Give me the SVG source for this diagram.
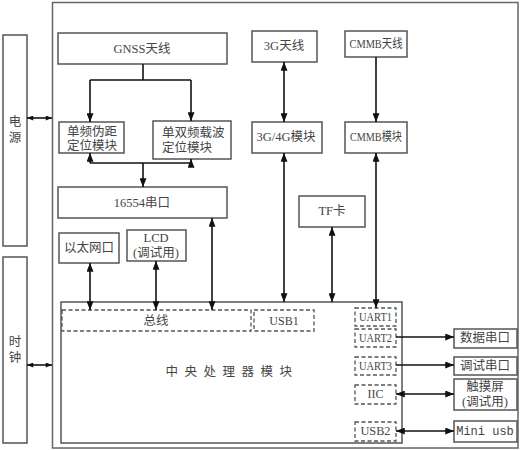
<svg xmlns="http://www.w3.org/2000/svg" width="521" height="450" viewBox="0 0 521 450">
<style>
.box{fill:#fff;stroke:#555;stroke-width:1.5}
.dash{fill:none;stroke:#555;stroke-width:1.3;stroke-dasharray:4,2.5}
.frame{fill:none;stroke:#666;stroke-width:1.5}
.ln{fill:none;stroke:#111;stroke-width:1.6}
.t{font-family:"Liberation Serif","Noto Sans CJK SC",serif;font-size:12.5px;fill:#444;text-anchor:middle;dominant-baseline:central}
.u{font-family:"Liberation Serif",serif;font-size:12px;fill:#444;text-anchor:middle;dominant-baseline:central}
.m{font-family:"Liberation Mono","Noto Sans CJK SC",monospace;font-size:12px;fill:#444;text-anchor:middle;dominant-baseline:central}
</style>
<defs>
<marker id="a" viewBox="0 0 10 8" refX="10" refY="4" markerWidth="9" markerHeight="7" markerUnits="userSpaceOnUse" orient="auto-start-reverse"><path d="M0,0L10,4L0,8Z" fill="#111"/></marker>
<marker id="s" viewBox="0 0 10 8" refX="10" refY="4" markerWidth="7" markerHeight="5" markerUnits="userSpaceOnUse" orient="auto-start-reverse"><path d="M0,0L10,4L0,8Z" fill="#111"/></marker>
</defs>
<rect width="521" height="450" fill="#fff"/>
<g id="frame"><rect class="frame" x="52.5" y="2.5" width="465.5" height="445.5"/></g>
<g id="power"><rect class="box" x="3" y="35" width="24" height="211"/><text class="t" x="15" y="122">电</text><text class="t" x="15" y="138">源</text></g>
<g id="clock"><rect class="box" x="3" y="257" width="24" height="186"/><text class="t" x="15" y="342">时</text><text class="t" x="15" y="358">钟</text></g>
<g id="gnss"><rect class="box" x="58" y="33" width="169" height="31"/><text class="t" x="142" y="49">GNSS天线</text></g>
<g id="single"><rect class="box" x="59" y="122" width="65" height="31"/><text class="t" x="92" y="132">单频伪距</text><text class="t" x="92" y="146">定位模块</text></g>
<g id="dual"><rect class="box" x="153" y="121" width="78" height="38"/><text class="t" x="162" y="133" style="text-anchor:start">单双频载波</text><text class="t" x="162" y="148" style="text-anchor:start">定位模块</text></g>
<g id="serial16554"><rect class="box" x="58" y="187" width="169" height="31"/><text class="t" x="142" y="203">16554串口</text></g>
<g id="ant3g"><rect class="box" x="252" y="31" width="65" height="31"/><text class="t" x="284" y="46">3G天线</text></g>
<g id="antcmmb"><rect class="box" x="345" y="31" width="62" height="26"/><text class="t" x="376" y="44" textLength="53" lengthAdjust="spacingAndGlyphs">CMMB天线</text></g>
<g id="mod3g"><rect class="box" x="252" y="122" width="70" height="31"/><text class="t" x="286" y="137">3G/4G模块</text></g>
<g id="modcmmb"><rect class="box" x="345" y="122" width="62" height="31"/><text class="t" x="376" y="137" textLength="52" lengthAdjust="spacingAndGlyphs">CMMB模块</text></g>
<g id="tf"><rect class="box" x="299" y="196" width="66" height="31"/><text class="t" x="332" y="211">TF卡</text></g>
<g id="eth"><rect class="box" x="59" y="233" width="60" height="30"/><text class="t" x="89" y="248">以太网口</text></g>
<g id="lcd"><rect class="box" x="127" y="230" width="59" height="31"/><text class="t" x="156" y="238">LCD</text><text class="t" x="156" y="253">(调试用)</text></g>
<g id="cpu"><rect class="box" x="61" y="302" width="341" height="141"/><text class="t" x="232" y="372" style="letter-spacing:6.5px">中央处理器模块</text>
<rect class="dash" x="62" y="310" width="189" height="21"/><text class="t" x="156" y="321">总线</text>
<rect class="dash" x="254" y="310" width="60" height="21"/><text class="u" x="284" y="321">USB1</text>
<rect class="dash" x="355" y="308" width="41" height="18"/><text class="u" x="375.5" y="317" textLength="33" lengthAdjust="spacingAndGlyphs">UART1</text>
<rect class="dash" x="355" y="329" width="41" height="18"/><text class="u" x="375.5" y="338" textLength="33" lengthAdjust="spacingAndGlyphs">UART2</text>
<rect class="dash" x="355" y="357" width="41" height="18"/><text class="u" x="375.5" y="366" textLength="33" lengthAdjust="spacingAndGlyphs">UART3</text>
<rect class="dash" x="355" y="385" width="41" height="19"/><text class="u" x="375.5" y="394">IIC</text>
<rect class="dash" x="355" y="422" width="41" height="19"/><text class="u" x="375.5" y="431" textLength="30" lengthAdjust="spacingAndGlyphs">USB2</text></g>
<g id="dataport"><rect class="box" x="454" y="329" width="63" height="19"/><text class="t" x="485" y="338">数据串口</text></g>
<g id="debugport"><rect class="box" x="454" y="357" width="63" height="18"/><text class="t" x="485" y="366">调试串口</text></g>
<g id="touch"><rect class="box" x="454" y="379" width="63" height="31"/><text class="t" x="485" y="387">触摸屏</text><text class="t" x="485" y="402">(调试用)</text></g>
<g id="miniusb"><rect class="box" x="454" y="421" width="63" height="21"/><text class="m" x="485" y="432">Mini usb</text></g>
<g id="connectors">
<path class="ln" d="M143,64V80M90,80H191"/>
<path class="ln" d="M90,80V122" marker-end="url(#a)"/>
<path class="ln" d="M191,80V121" marker-end="url(#a)"/>
<path class="ln" d="M90,163H191"/>
<path class="ln" d="M90,163V153" marker-end="url(#a)"/>
<path class="ln" d="M191,163V159" marker-end="url(#a)"/>
<path class="ln" d="M143,163V187" marker-end="url(#a)"/>
<path class="ln" d="M284,62V122" marker-start="url(#a)" marker-end="url(#a)"/>
<path class="ln" d="M376,57V122" marker-end="url(#a)"/>
<path class="ln" d="M284,153V302" marker-start="url(#a)" marker-end="url(#a)"/>
<path class="ln" d="M332,227V302" marker-start="url(#a)" marker-end="url(#a)"/>
<path class="ln" d="M376,153V308" marker-start="url(#a)" marker-end="url(#a)"/>
<path class="ln" d="M212,218V310" marker-start="url(#a)" marker-end="url(#a)"/>
<path class="ln" d="M90,263V310" marker-start="url(#a)" marker-end="url(#a)"/>
<path class="ln" d="M156,261V310" marker-start="url(#a)" marker-end="url(#a)"/>
<path class="ln" d="M27,118H52" stroke-width="1.2" marker-start="url(#s)" marker-end="url(#s)"/>
<path class="ln" d="M27,365H52" stroke-width="1.2" marker-start="url(#s)" marker-end="url(#s)"/>
<path class="ln" d="M396,337H454" marker-end="url(#a)"/>
<path class="ln" d="M396,365H454" marker-end="url(#a)"/>
<path class="ln" d="M396,394H454" marker-start="url(#a)" marker-end="url(#a)"/>
<path class="ln" d="M396,431H454" marker-start="url(#a)" marker-end="url(#a)"/>
</g>
</svg>
